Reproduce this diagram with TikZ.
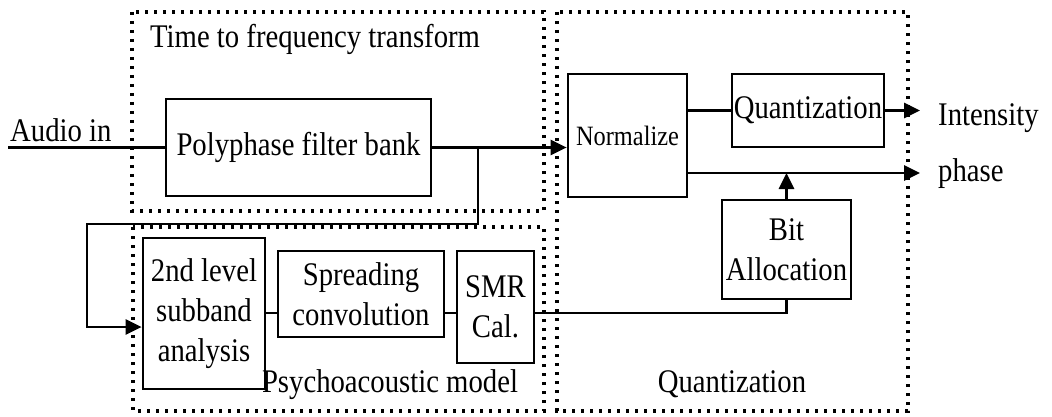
\documentclass[tikz,border=0pt]{standalone}
\usepackage{fontspec}
\setmainfont{Liberation Serif}[FakeStretch=0.87]
\usetikzlibrary{arrows.meta}
\tikzset{
  grp/.style={line width=3.2pt, dash pattern=on 3.2pt off 5.8pt},
  blk/.style={draw, line width=2.7pt, inner sep=0pt, align=center, font=\fontsize{33}{40}\selectfont},
  lbl/.style={inner sep=0pt, font=\fontsize{33}{40}\selectfont},
  con/.style={line width=2.7pt},
  arr/.style={line width=2.7pt, -{Triangle[length=16pt,width=15pt]}},
}
\begin{document}
\begin{tikzpicture}[x=1pt,y=-1pt]
\useasboundingbox (0,0) rectangle (1052,417);
% groups
\draw[grp] (132,12) rectangle (544,211);
\draw[grp] (133,227) rectangle (544,411);
\draw[grp] (557,12) rectangle (908,411);
% labels
\node[lbl, anchor=base west] (ttl) at (150,48) {Time to frequency transform};
\node[lbl, anchor=base west] (ain) at (10,142) {Audio in};
\node[lbl, anchor=base west] (inten) at (938,126) {Intensity};
\node[lbl, anchor=base west] (phl) at (938,182) {phase};
\node[lbl, anchor=base] (psy) at (390,392) {Psychoacoustic model};
\node[lbl, anchor=base] (qlb) at (732,392) {Quantization};
% blocks
\node[blk, minimum width=265pt, minimum height=97pt] (poly) at (298.5,147.5) {Polyphase filter bank};
\node[blk, minimum width=119pt, minimum height=123pt, font=\fontsize{28}{32}\selectfont] (norm) at (627.5,135.5) {Normalize};
\node[blk, minimum width=152pt, minimum height=73pt] (quant) at (808,110.5) {Quantization};
\node[blk, minimum width=129pt, minimum height=99pt] (bit) at (786.5,249.5) {Bit\\Allocation};
\node[blk, minimum width=122pt, minimum height=151pt] (sub) at (204,313.5) {2nd level\\subband\\analysis};
\node[blk, minimum width=166pt, minimum height=86pt] (spr) at (361,294) {Spreading\\convolution};
\node[blk, minimum width=77pt, minimum height=112pt] (smr) at (495.5,307) {SMR\\Cal.};
% coordinates
\coordinate (ainl) at (8,147.5);
\coordinate (br) at (478,147.5);
\coordinate (fb2) at (87,224);
\coordinate (fb3) at (87,327);
\coordinate (outI) at (920,110.5);
\coordinate (phs) at (920,173);
\coordinate (j) at (786.5,313);
% connectors
\draw[con] (ainl) -- (poly.west);
\draw[arr] (poly.east) -- (norm.west |- poly.east);
\draw[arr] (br) |- (fb2) |- (sub.west |- fb3);
\draw[con] (norm.east |- quant.west) -- (quant.west);
\draw[arr] (quant.east) -- (outI);
\draw[arr] (norm.east |- phs) -- (phs);
\draw[arr] (bit.north) -- (bit.north |- phs);
\draw[con] (sub.east |- j) -- (spr.west |- j);
\draw[con] (spr.east |- j) -- (smr.west |- j);
\draw[con] (smr.east |- j) -- (j) -- (bit.south);
\end{tikzpicture}
\end{document}
